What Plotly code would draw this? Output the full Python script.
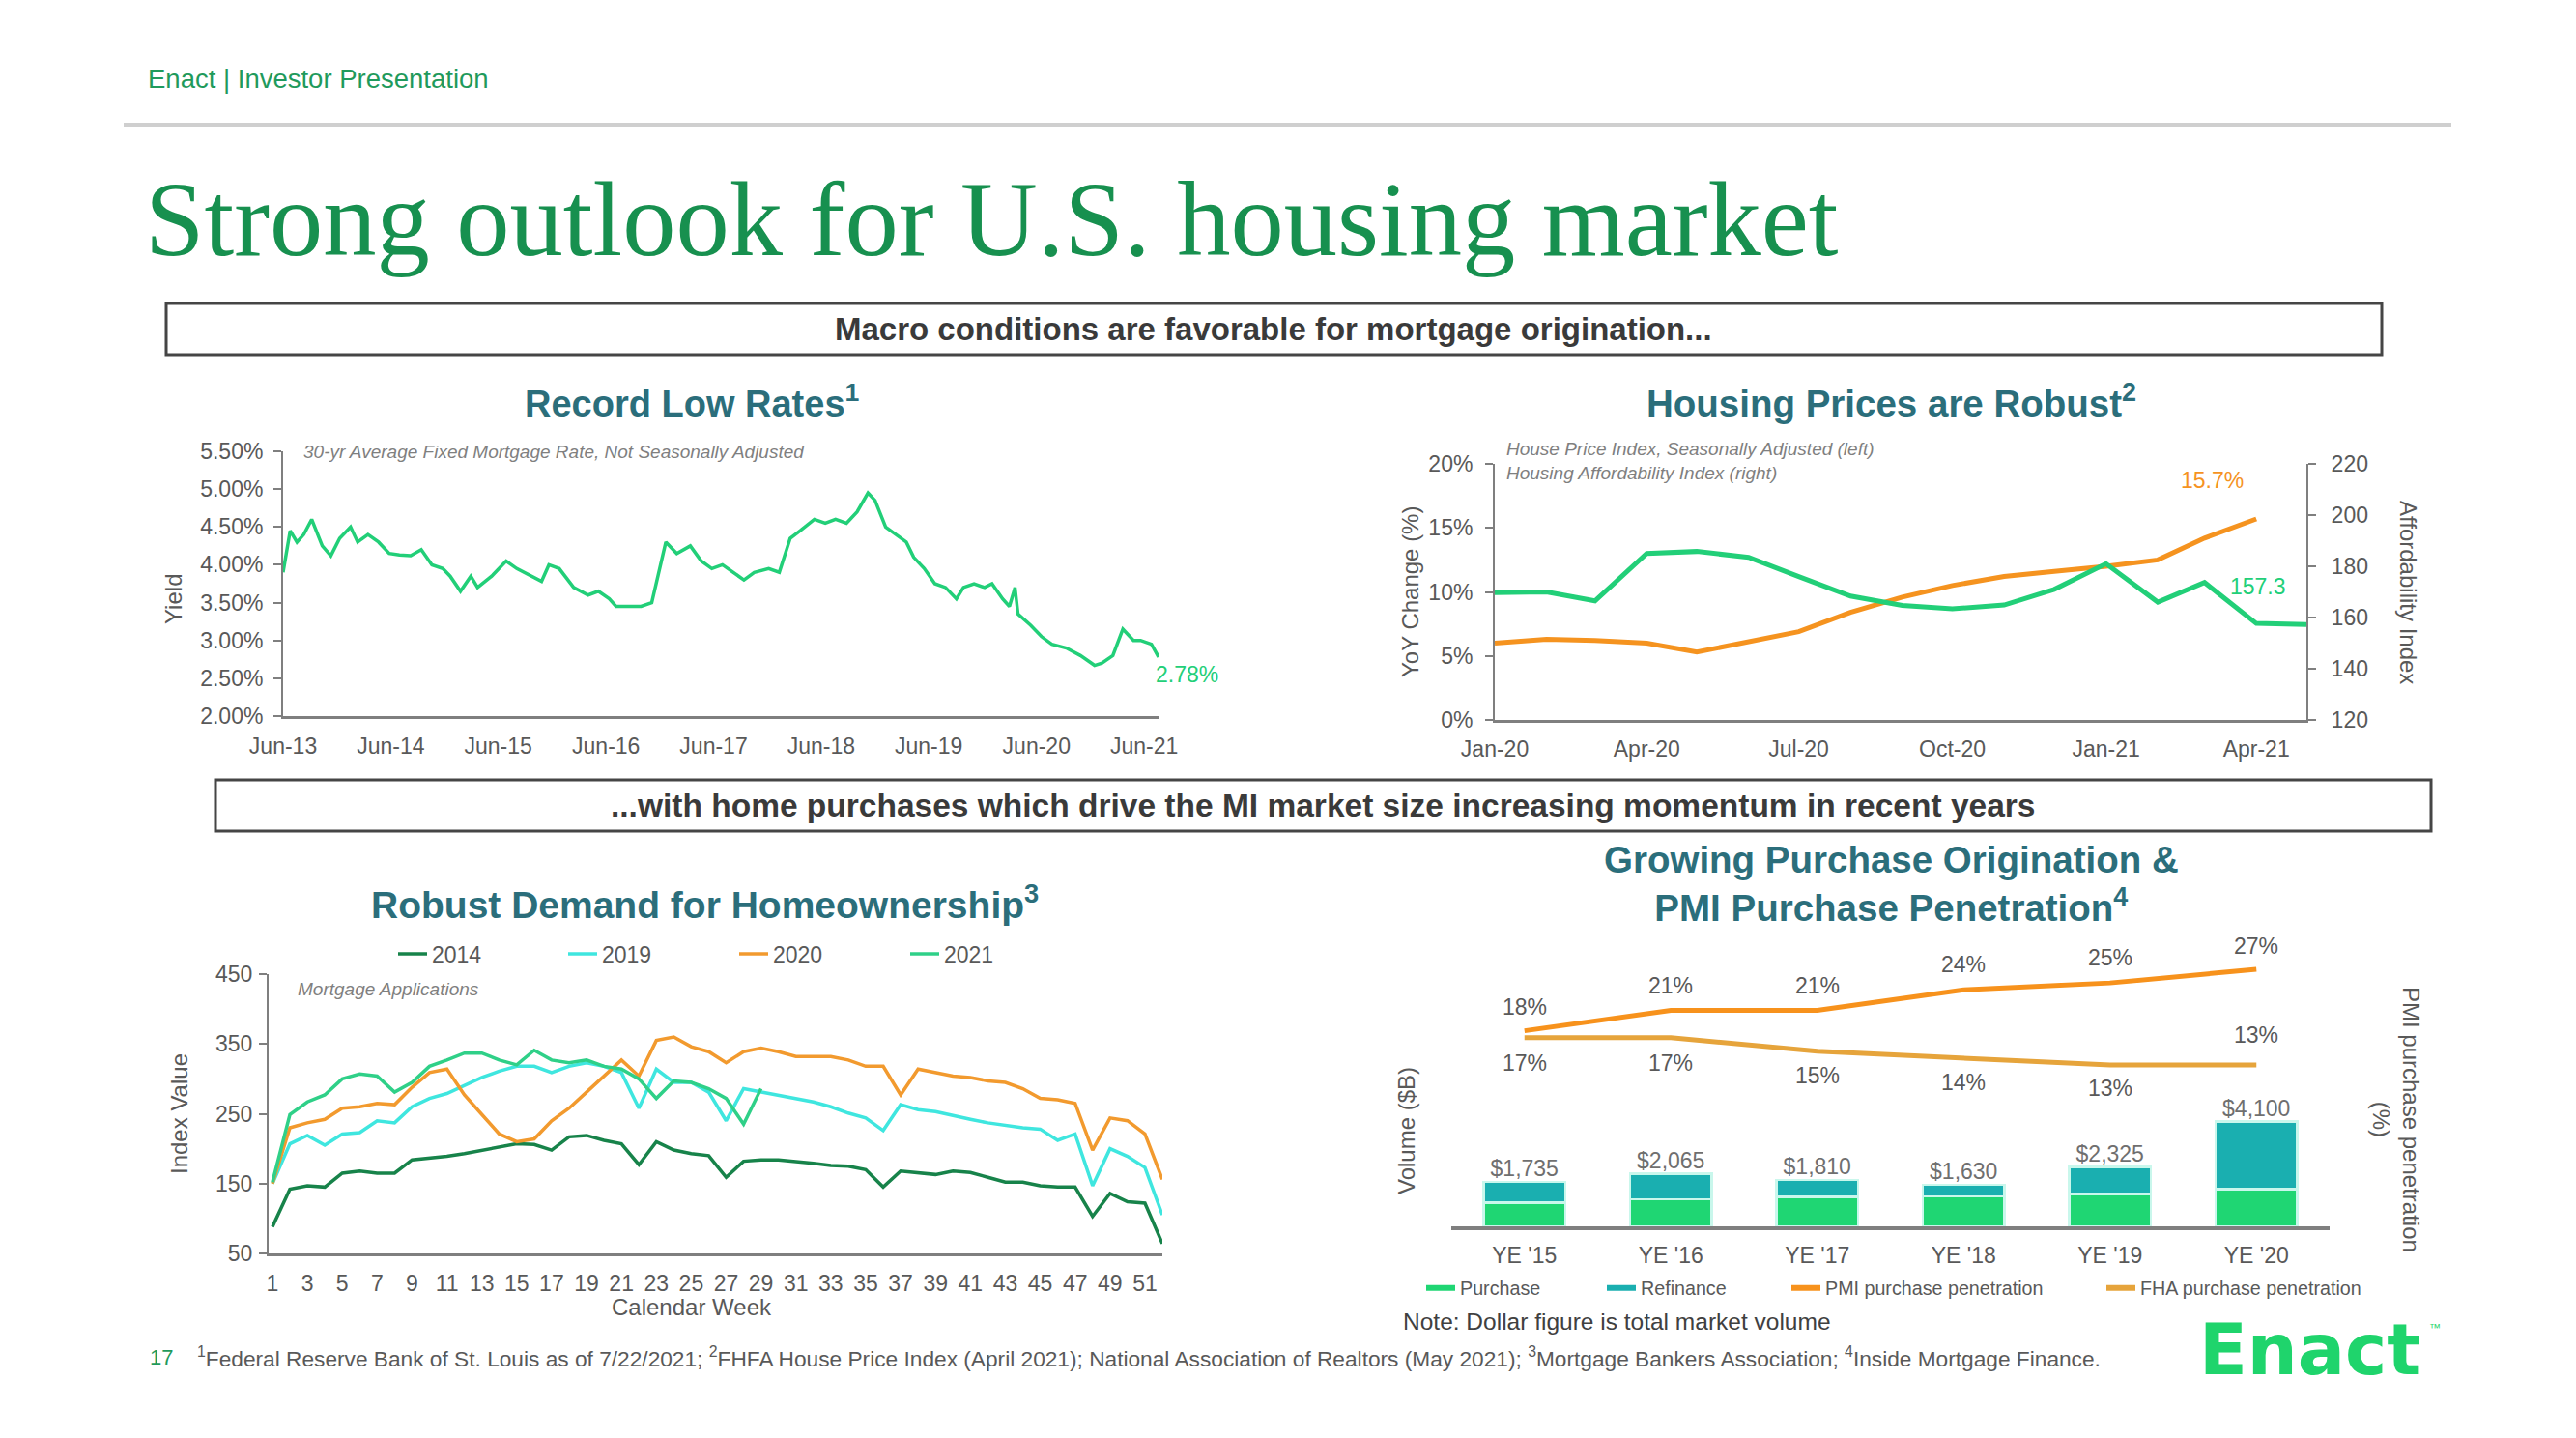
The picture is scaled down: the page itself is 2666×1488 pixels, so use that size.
import plotly.graph_objects as go

W, H = 2666, 1488
def X(p): return p / W
def Y(p): return 1 - p / H

FONT = "Liberation Sans, Arial, Helvetica, sans-serif"
SERIF = "Liberation Serif, Times New Roman, serif"
GRAY = "#595959"
AXIS = "#7f7f7f"
TEAL = "#2b6e7b"
GREEN = "#22cf78"
ORANGE = "#f5931f"

# ---------------- data ----------------
# Chart 1: 30-yr fixed mortgage rate (%)
rate_dates = ["2013-06-01", "2013-06-25", "2013-07-18", "2013-08-10", "2013-09-06", "2013-10-12",
              "2013-11-10", "2013-12-10", "2014-01-16", "2014-02-09", "2014-03-16", "2014-04-21",
              "2014-05-27", "2014-07-01", "2014-08-08", "2014-09-13", "2014-10-19", "2014-11-25",
              "2014-12-20", "2015-01-24", "2015-02-28", "2015-03-23", "2015-05-10", "2015-06-28",
              "2015-08-03", "2015-09-20", "2015-10-26", "2015-11-20", "2015-12-25", "2016-02-12",
              "2016-04-01", "2016-05-06", "2016-06-12", "2016-07-05", "2016-08-15", "2016-09-28",
              "2016-11-03", "2016-12-21", "2017-01-27", "2017-03-14", "2017-04-20", "2017-05-26",
              "2017-07-01", "2017-08-06", "2017-09-12", "2017-10-17", "2017-12-05", "2018-01-10",
              "2018-02-16", "2018-03-22", "2018-05-09", "2018-06-15", "2018-07-20", "2018-08-26",
              "2018-10-01", "2018-11-07", "2018-12-01", "2019-01-06", "2019-02-12", "2019-03-17",
              "2019-04-11", "2019-05-17", "2019-06-22", "2019-07-28", "2019-09-03", "2019-09-27",
              "2019-11-02", "2019-12-08", "2020-01-02", "2020-02-07", "2020-03-01", "2020-03-20",
              "2020-03-30", "2020-05-12", "2020-06-18", "2020-07-23", "2020-09-10", "2020-10-28",
              "2020-12-15", "2021-01-09", "2021-02-15", "2021-03-21", "2021-04-26", "2021-05-20",
              "2021-06-26", "2021-07-20"]
rate_values = [3.90, 4.45, 4.30, 4.40, 4.60, 4.25,
               4.12, 4.35, 4.50, 4.30, 4.40, 4.30,
               4.15, 4.13, 4.12, 4.20, 4.00, 3.95,
               3.85, 3.65, 3.85, 3.70, 3.85, 4.05,
               3.95, 3.85, 3.78, 4.00, 3.95, 3.70,
               3.60, 3.65, 3.55, 3.45, 3.45, 3.45,
               3.50, 4.30, 4.15, 4.25, 4.05, 3.95,
               4.00, 3.90, 3.80, 3.90, 3.95, 3.90,
               4.35, 4.45, 4.60, 4.55, 4.60, 4.55,
               4.70, 4.95, 4.85, 4.50, 4.40, 4.30,
               4.10, 3.95, 3.75, 3.70, 3.55, 3.70,
               3.75, 3.70, 3.75, 3.55, 3.45, 3.70,
               3.35, 3.20, 3.05, 2.95, 2.90, 2.80,
               2.67, 2.70, 2.80, 3.15, 3.00, 3.00,
               2.95, 2.78]
rate_xticks = ["2013-06-01", "2014-06-01", "2015-06-01", "2016-06-01", "2017-06-01",
               "2018-06-01", "2019-06-01", "2020-06-01", "2021-06-01"]
rate_xticktext = ["Jun-13", "Jun-14", "Jun-15", "Jun-16", "Jun-17", "Jun-18", "Jun-19", "Jun-20", "Jun-21"]
rate_yticks = [2.0, 2.5, 3.0, 3.5, 4.0, 4.5, 5.0, 5.5]
rate_yticktext = ["2.00%", "2.50%", "3.00%", "3.50%", "4.00%", "4.50%", "5.00%", "5.50%"]

# Chart 2: house prices
hp_months = ["2020-01-01", "2020-02-01", "2020-03-01", "2020-04-01", "2020-05-01", "2020-06-01",
             "2020-07-01", "2020-08-01", "2020-09-01", "2020-10-01", "2020-11-01", "2020-12-01",
             "2021-01-01", "2021-02-01", "2021-03-01", "2021-04-01", "2021-05-01"]
hpi_yoy = [6.0, 6.3, 6.2, 6.0, 5.3, 6.1, 6.9, 8.4, 9.6, 10.5, 11.2, 11.6, 12.0, 12.5, 14.2, 15.7]
affordability = [169.7, 170.0, 166.5, 185.0, 185.8, 183.5, 176.0, 168.4, 164.7, 163.4, 164.9,
                 171.0, 181.0, 166.0, 173.7, 157.7, 157.3]
hp_xticks = ["2020-01-01", "2020-04-01", "2020-07-01", "2020-10-01", "2021-01-01", "2021-04-01"]
hp_xticktext = ["Jan-20", "Apr-20", "Jul-20", "Oct-20", "Jan-21", "Apr-21"]
hp_left_ticks = [0, 5, 10, 15, 20]
hp_left_ticktext = ["0%", "5%", "10%", "15%", "20%"]
hp_right_ticks = [120, 140, 160, 180, 200, 220]

# Chart 3: mortgage applications by calendar week
weeks = list(range(1, 53))
apps_2014 = [88, 142, 147, 145, 165, 168, 165, 165, 184, 186, 189, 193, 198, 203, 207, 206, 198,
             217, 219, 212, 207, 177, 210, 198, 193, 190, 159, 182, 184, 184, 182, 179, 176, 175,
             170, 145, 168, 166, 163, 168, 166, 159, 152, 152, 147, 145, 145, 103, 136, 124, 122, 64]
apps_2019 = [150, 207, 219, 205, 221, 223, 240, 237, 260, 272, 279, 290, 302, 311, 318, 318, 309,
             318, 323, 318, 309, 258, 314, 295, 295, 281, 240, 286, 281, 277, 272, 267, 260, 251,
             244, 226, 263, 256, 253, 247, 242, 237, 233, 230, 228, 212, 221, 147, 200, 189, 173, 105]
apps_2020 = [150, 230, 237, 242, 258, 260, 265, 263, 288, 309, 314, 277, 249, 221, 210, 214, 240,
             258, 281, 304, 327, 304, 355, 360, 346, 339, 323, 339, 344, 339, 332, 332, 332, 327,
             318, 318, 277, 314, 309, 304, 302, 297, 295, 286, 272, 270, 265, 198, 244, 240, 221, 156]
apps_2021 = [152, 249, 267, 277, 300, 307, 304, 281, 295, 318, 327, 337, 337, 327, 320, 341, 327,
             323, 327, 318, 314, 300, 272, 297, 295, 286, 272, 235, 286]
week_ticks = [1, 3, 5, 7, 9, 11, 13, 15, 17, 19, 21, 23, 25, 27, 29, 31, 33, 35, 37, 39, 41, 43,
              45, 47, 49, 51]
apps_yticks = [50, 150, 250, 350, 450]

# Chart 4: originations ($B) and penetration (%)
years = ["YE '15", "YE '16", "YE '17", "YE '18", "YE '19", "YE '20"]
purchase = [930, 1050, 1150, 1170, 1260, 1450]
refinance = [805, 1015, 660, 460, 1065, 2650]
total_volume = [1735, 2065, 1810, 1630, 2325, 4100]
pmi_penetration = [18, 21, 21, 24, 25, 27]
fha_penetration = [17, 17, 15, 14, 13, 13]

# ---------------- figure ----------------
fig = go.Figure()

# chart 1
fig.add_trace(go.Scatter(x=rate_dates, y=rate_values, mode="lines", xaxis="x", yaxis="y",
                         line=dict(color=GREEN, width=3.5), showlegend=False))
# chart 2
fig.add_trace(go.Scatter(x=hp_months[:len(hpi_yoy)], y=hpi_yoy, mode="lines", xaxis="x2", yaxis="y2",
                         line=dict(color=ORANGE, width=5), showlegend=False))
fig.add_trace(go.Scatter(x=hp_months, y=affordability, mode="lines", xaxis="x2", yaxis="y3",
                         line=dict(color=GREEN, width=5), showlegend=False))
# chart 3
for name, vals, col, lg in [("2014", apps_2014, "#17834a", "legend"),
                            ("2019", apps_2019, "#3fe6df", "legend2"),
                            ("2020", apps_2020, "#f29a2e", "legend3"),
                            ("2021", apps_2021, "#2fd088", "legend4")]:
    fig.add_trace(go.Scatter(x=weeks[:len(vals)], y=vals, mode="lines", name=name, xaxis="x3", yaxis="y4",
                             line=dict(color=col, width=3.5), legend=lg))
# chart 4
PURCH = "#1fd673"
REFI = "#1aafb0"
PMI = "#f7921c"
FHA = "#e6a43b"
fig.add_trace(go.Bar(x=years, y=purchase, xaxis="x4", yaxis="y5",
                     marker=dict(color=PURCH, line=dict(color="#c9f7ec", width=2.5)), showlegend=False))
fig.add_trace(go.Bar(x=years, y=refinance, xaxis="x4", yaxis="y5",
                     marker=dict(color=REFI, line=dict(color="#c9f7ec", width=2.5)), showlegend=False))
fig.add_trace(go.Scatter(x=years, y=total_volume, mode="text", xaxis="x4", yaxis="y5",
                         text=[f"${v:,}" for v in total_volume], textposition="top center",
                         textfont=dict(family=FONT, size=23, color="#6f6f6f"), showlegend=False))
fig.add_trace(go.Scatter(x=years, y=pmi_penetration, mode="lines", xaxis="x4", yaxis="y6",
                         line=dict(color=PMI, width=5), showlegend=False))
fig.add_trace(go.Scatter(x=years, y=fha_penetration, mode="lines", xaxis="x4", yaxis="y6",
                         line=dict(color=FHA, width=5), showlegend=False))
# chart 4 legend entries
for name, col, lg in [("Purchase", PURCH, "legend5"), ("Refinance", REFI, "legend6"),
                      ("PMI purchase penetration", PMI, "legend7"), ("FHA purchase penetration", FHA, "legend8")]:
    fig.add_trace(go.Scatter(x=[None], y=[None], mode="lines", name=name, xaxis="x4", yaxis="y5",
                             line=dict(color=col, width=6), legend=lg))


def ax(**kw):
    base = dict(showgrid=False, zeroline=False, showline=True, linecolor=AXIS, linewidth=2,
                tickfont=dict(family=FONT, size=23, color=GRAY), ticks="", fixedrange=True,
                automargin=False)
    base.update(kw)
    return base


def legend_at(xpx, ypx, size):
    return dict(x=X(xpx), y=Y(ypx), xanchor="left", yanchor="middle", orientation="h",
                bgcolor="rgba(0,0,0,0)", borderwidth=0,
                font=dict(family=FONT, size=size, color=GRAY))


annotations = []
def txt(text, x, y, size, color=GRAY, xanchor="center", family=FONT, angle=0, **kw):
    d = dict(text=text, x=x, y=y, xref="paper", yref="paper", showarrow=False, xanchor=xanchor,
             yanchor="middle", textangle=angle, font=dict(family=family, size=size, color=color))
    d.update(kw)
    annotations.append(d)

txt("Enact | Investor Presentation", X(151), Y(82), 27.5, "#1f9a5c", xanchor="left")
txt("Strong outlook for U.S. housing market", X(148), Y(227), 110.5, "#17904f", xanchor="left", family=SERIF)
txt("<b>Macro conditions are favorable for mortgage origination...</b>", X(1318), Y(341), 33, "#3a3a3a")
txt("<b>...with home purchases which drive the MI market size increasing momentum in recent years</b>",
    X(1369), Y(834), 33.5, "#3a3a3a")
txt("<b>Record Low Rates<sup>1</sup></b>", X(716), Y(415), 38, TEAL)
txt("<b>Housing Prices are Robust<sup>2</sup></b>", X(1958), Y(415), 38.5, TEAL)
txt("<b>Robust Demand for Homeownership<sup>3</sup></b>", X(729), Y(933), 39, TEAL)
txt("<b>Growing Purchase Origination &<br>PMI Purchase Penetration<sup>4</sup></b>", X(1958), Y(915), 38.5, TEAL)
txt("<i>30-yr Average Fixed Mortgage Rate, Not Seasonally Adjusted</i>", X(312), Y(467), 19, "#7f7f7f", xanchor="left")
txt("<i>House Price Index, Seasonally Adjusted (left)<br>Housing Affordability Index (right)</i>",
    X(1557), Y(477), 19, "#7f7f7f", xanchor="left", align="left")
txt("<i>Mortgage Applications</i>", X(306), Y(1023), 19, "#7f7f7f", xanchor="left")
txt("Yield", X(179), Y(620), 24, angle=-90)
txt("YoY Change (%)", X(1459), Y(613), 24, angle=-90)
txt("Affordability Index", X(2493), Y(613), 24, angle=90)
txt("Index Value", X(185), Y(1153), 24, angle=-90)
txt("Calendar Week", X(716), Y(1352), 24)
txt("Volume ($B)", X(1455), Y(1170), 24, angle=-90)
txt("PMI purchase penetration<br>(%)", X(2480), Y(1158), 24, angle=90)
txt("Note: Dollar figure is total market volume", X(1450), Y(1367), 24.5, "#404040", xanchor="left")
txt("17", X(153), Y(1404), 22, "#1f9a5c", xanchor="left")
txt("<sup>1</sup>Federal Reserve Bank of St. Louis as of 7/22/2021; <sup>2</sup>FHFA House Price Index (April 2021); "
    "National Association of Realtors (May 2021); <sup>3</sup>Mortgage Bankers Association; "
    "<sup>4</sup>Inside Mortgage Finance.", X(202), Y(1404), 22.7, GRAY, xanchor="left")
txt("<b>Enact</b>", X(2274), Y(1396), 73, "#1fd46c", xanchor="left", family="DejaVu Sans, Liberation Sans, sans-serif")
txt("™", X(2512), Y(1374), 12, "#1fd46c", xanchor="left")

# end-of-series labels tied to data
annotations.append(dict(text="2.78%", x=rate_dates[-1], y=rate_values[-1], xref="x", yref="y",
                        showarrow=False, xshift=29, yshift=-18, font=dict(family=FONT, size=23, color=GREEN)))
annotations.append(dict(text="15.7%", x=hp_months[len(hpi_yoy) - 1], y=hpi_yoy[-1], xref="x2", yref="y2",
                        showarrow=False, xshift=-46, yshift=40, font=dict(family=FONT, size=23, color=ORANGE)))
annotations.append(dict(text="157.3", x=hp_months[-1], y=affordability[-1], xref="x2", yref="y3",
                        showarrow=False, xshift=-50, yshift=39, font=dict(family=FONT, size=23, color=GREEN)))

# penetration value labels tied to the line points
pmi_label_shift = [25, 25, 25, 26, 26, 24]
fha_label_shift = [-26, -26, -25, -25, -24, 31]
for cat, v, s in zip(years, pmi_penetration, pmi_label_shift):
    annotations.append(dict(text=f"{v}%", x=cat, y=v, xref="x4", yref="y6", showarrow=False, yshift=s,
                            font=dict(family=FONT, size=23, color=GRAY)))
for cat, v, s in zip(years, fha_penetration, fha_label_shift):
    annotations.append(dict(text=f"{v}%", x=cat, y=v, xref="x4", yref="y6", showarrow=False, yshift=s,
                            font=dict(family=FONT, size=23, color=GRAY)))

shapes = [
    dict(type="line", xref="paper", yref="paper", x0=X(128), x1=X(2537), y0=Y(129), y1=Y(129),
         line=dict(color="#cfcfcf", width=4)),
    dict(type="rect", xref="paper", yref="paper", x0=X(172), x1=X(2465), y0=Y(314), y1=Y(367),
         line=dict(color="#454545", width=3)),
    dict(type="rect", xref="paper", yref="paper", x0=X(223), x1=X(2516), y0=Y(807), y1=Y(860),
         line=dict(color="#454545", width=3)),
]

fig.update_layout(
    width=W, height=H, margin=dict(l=0, r=0, t=0, b=0, pad=0, autoexpand=False),
    paper_bgcolor="white", plot_bgcolor="rgba(0,0,0,0)",
    font=dict(family=FONT, color=GRAY),
    barmode="stack", bargap=0.445,
    xaxis=ax(domain=[X(293), X(1199)], anchor="y", type="date", range=["2013-06-01", "2021-07-20"],
             tickvals=rate_xticks, ticktext=rate_xticktext, linewidth=3, ticklabelstandoff=8),
    yaxis=ax(domain=[Y(741), Y(467)], anchor="x", range=[2, 5.5], tickvals=rate_yticks,
             ticktext=rate_yticktext, ticks="outside", ticklen=8, tickwidth=2, tickcolor=AXIS,
             ticklabelstandoff=6),
    xaxis2=ax(domain=[X(1547), X(2387)], anchor="y2", type="date", range=["2020-01-01", "2021-05-01"],
              tickvals=hp_xticks, ticktext=hp_xticktext, linewidth=3, ticklabelstandoff=7),
    yaxis2=ax(domain=[Y(745), Y(480)], anchor="x2", range=[0, 20], tickvals=hp_left_ticks,
              ticktext=hp_left_ticktext, ticks="outside", ticklen=8, tickwidth=2, tickcolor=AXIS,
              ticklabelstandoff=8),
    yaxis3=ax(overlaying="y2", side="right", anchor="x2", range=[120, 220], tickvals=hp_right_ticks,
              ticks="outside", ticklen=8, tickwidth=2, tickcolor=AXIS, ticklabelstandoff=11),
    xaxis3=ax(domain=[X(278), X(1203)], anchor="y4", range=[0.78, 52.0], tickvals=week_ticks,
              linewidth=3, ticklabelstandoff=8),
    yaxis4=ax(domain=[Y(1297), Y(1008)], anchor="x3", range=[50, 450], tickvals=apps_yticks,
              ticks="outside", ticklen=8, tickwidth=2, tickcolor=AXIS, ticklabelstandoff=2),
    xaxis4=ax(domain=[X(1502), X(2411)], anchor="y5", type="category", linewidth=4,
              ticklabelstandoff=6),
    yaxis5=dict(domain=[Y(1269), Y(960)], anchor="x4", range=[0, 11660], visible=False, fixedrange=True),
    yaxis6=dict(overlaying="y5", anchor="x4", range=[-10.62, 33.08], visible=False, fixedrange=True),
    legend=legend_at(407, 987, 23),
    legend2=legend_at(583, 987, 23),
    legend3=legend_at(760, 987, 23),
    legend4=legend_at(937, 987, 23),
    legend5=legend_at(1471, 1333, 19.7),
    legend6=legend_at(1658, 1333, 19.7),
    legend7=legend_at(1849, 1333, 19.7),
    legend8=legend_at(2175, 1333, 19.7),
    annotations=annotations,
    shapes=shapes,
)

fig.write_html("out.html", config={"displayModeBar": False, "staticPlot": True},
               post_script="document.body.style.margin='0';document.body.style.overflow='hidden';")
